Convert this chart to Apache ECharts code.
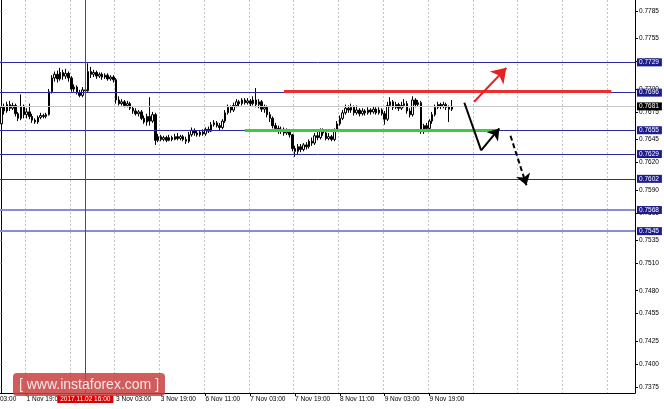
<!DOCTYPE html>
<html><head><meta charset="utf-8">
<script src="https://cdn.jsdelivr.net/npm/echarts@6/dist/echarts.min.js"></script>
<style>html,body{margin:0;padding:0;background:#fff}#c{width:664px;height:409px}</style>
</head><body><div id="c"></div>
<script>
// ---- data ----
const startTime = '2017-11-01T10:00:00Z';
const totalBars = 227;
const tickLabels = ['1 Nov 19:00','3 Nov 03:00','3 Nov 19:00','6 Nov 11:00','7 Nov 03:00','7 Nov 19:00','8 Nov 11:00','9 Nov 03:00','9 Nov 19:00'];
const cutLabel = '03:00';
const crosshairTime = '2 Nov 16:00';
const crosshairText = '2017.11.02 16:00';
const yTicks = [0.7785,0.7755,0.7730,0.7700,0.7675,0.7645,0.7620,0.7590,0.7565,0.7535,0.7510,0.7480,0.7455,0.7425,0.7400,0.7375];
const levels = [0.7729,0.7696,0.7655,0.7629,0.7602];
const lightLevels = [0.7568,0.7545];
const lastPrice = 0.7681;
const opens = [.7662,.7680,.7676,.7683,.7679,.7682,.7673,.7668,.7681,.7672,
.7675,.7670,.7666,.7664,.7669,.7671,.7670,.7672,.7697,.7712,
.7716,.7711,.7718,.7714,.7717,.7712,.7700,.7702,.7696,.7693,
.7699,.7698,.7719,.7716,.7718,.7714,.7716,.7713,.7715,.7711,
.7713,.7710,.7688,.7684,.7686,.7682,.7684,.7679,.7676,.7673,
.7675,.7668,.7664,.7670,.7665,.7672,.7644,.7648,.7645,.7647,
.7644,.7647,.7645,.7648,.7646,.7648,.7645,.7643,.7650,.7655,
.7652,.7650,.7653,.7651,.7656,.7654,.7661,.7663,.7660,.7658,
.7665,.7674,.7680,.7677,.7682,.7686,.7684,.7688,.7685,.7687,
.7684,.7688,.7683,.7686,.7678,.7680,.7672,.7668,.7660,.7657,
.7654,.7656,.7652,.7654,.7650,.7635,.7632,.7637,.7634,.7639,
.7637,.7643,.7641,.7649,.7647,.7654,.7652,.7646,.7648,.7645,
.7655,.7662,.7668,.7674,.7679,.7677,.7680,.7674,.7677,.7673,
.7676,.7674,.7677,.7675,.7678,.7674,.7677,.7673,.7667,.7682,
.7686,.7680,.7683,.7679,.7682,.7684,.7676,.7672,.7688,.7683,
.7685,.7655,.7660,.7657,.7665,.7672,.7680,.7683,.7681,.7683,
.7680,.7678];
const closes = [.7680,.7676,.7683,.7679,.7682,.7673,.7668,.7681,.7672,.7675,
.7670,.7666,.7664,.7669,.7671,.7670,.7672,.7697,.7712,.7716,
.7711,.7718,.7714,.7717,.7712,.7700,.7702,.7696,.7693,.7699,
.7698,.7719,.7716,.7718,.7714,.7716,.7713,.7715,.7711,.7713,
.7710,.7688,.7684,.7686,.7682,.7684,.7679,.7676,.7673,.7675,
.7668,.7664,.7670,.7665,.7672,.7644,.7648,.7645,.7647,.7644,
.7647,.7645,.7648,.7646,.7648,.7645,.7643,.7650,.7655,.7652,
.7650,.7653,.7651,.7656,.7654,.7661,.7663,.7660,.7658,.7665,
.7674,.7680,.7677,.7682,.7686,.7684,.7688,.7685,.7687,.7684,
.7688,.7683,.7686,.7678,.7680,.7672,.7668,.7660,.7657,.7654,
.7656,.7652,.7654,.7650,.7635,.7632,.7637,.7634,.7639,.7637,
.7643,.7641,.7649,.7647,.7654,.7652,.7646,.7648,.7645,.7655,
.7662,.7668,.7674,.7679,.7677,.7680,.7674,.7677,.7673,.7676,
.7674,.7677,.7675,.7678,.7674,.7677,.7673,.7667,.7682,.7686,
.7680,.7683,.7679,.7682,.7684,.7676,.7672,.7688,.7683,.7685,
.7655,.7660,.7657,.7665,.7672,.7680,.7683,.7681,.7683,.7680,
.7678,.7681];
const lows = [.7655,.7672,.7674,.7676,.7677,.7670,.7665,.7666,.7668,.7668,
.7667,.7663,.7662,.7662,.7667,.7668,.7668,.7671,.7695,.7708,
.7707,.7709,.7710,.7711,.7708,.7697,.7697,.7694,.7691,.7691,
.7696,.7697,.7712,.7713,.7711,.7712,.7710,.7711,.7709,.7709,
.7707,.7684,.7682,.7682,.7680,.7680,.7677,.7673,.7671,.7670,
.7666,.7662,.7660,.7660,.7663,.7639,.7642,.7643,.7643,.7642,
.7643,.7643,.7644,.7644,.7644,.7643,.7640,.7641,.7648,.7649,
.7648,.7648,.7649,.7649,.7652,.7653,.7659,.7658,.7655,.7656,
.7663,.7672,.7674,.7675,.7680,.7681,.7682,.7683,.7683,.7681,
.7682,.7680,.7679,.7675,.7674,.7669,.7664,.7657,.7654,.7651,
.7651,.7649,.7650,.7647,.7632,.7626,.7629,.7631,.7632,.7634,
.7635,.7638,.7639,.7644,.7645,.7649,.7644,.7644,.7643,.7643,
.7653,.7660,.7666,.7672,.7674,.7674,.7671,.7672,.7670,.7671,
.7671,.7672,.7672,.7673,.7672,.7672,.7671,.7661,.7665,.7680,
.7677,.7678,.7676,.7677,.7680,.7673,.7669,.7670,.7680,.7681,
.7651,.7651,.7653,.7655,.7662,.7670,.7678,.7678,.7679,.7677,
.7664,.7676];
const highs = [.7688,.7684,.7686,.7687,.7685,.7684,.7675,.7694,.7683,.7679,
.7684,.7673,.7668,.7671,.7674,.7673,.7674,.7700,.7715,.7719,
.7720,.7723,.7721,.7722,.7719,.7714,.7705,.7704,.7699,.7702,
.7701,.7728,.7724,.7721,.7720,.7718,.7718,.7717,.7717,.7715,
.7715,.7712,.7692,.7689,.7688,.7687,.7686,.7681,.7679,.7677,
.7677,.7671,.7673,.7691,.7675,.7674,.7651,.7650,.7649,.7649,
.7650,.7649,.7651,.7652,.7650,.7650,.7648,.7653,.7658,.7657,
.7655,.7655,.7656,.7658,.7659,.7664,.7666,.7665,.7663,.7667,
.7677,.7683,.7682,.7685,.7689,.7688,.7690,.7690,.7690,.7689,
.7692,.7701,.7689,.7688,.7683,.7682,.7675,.7670,.7663,.7660,
.7659,.7658,.7657,.7656,.7651,.7638,.7640,.7640,.7641,.7642,
.7645,.7647,.7652,.7654,.7657,.7657,.7655,.7652,.7650,.7657,
.7665,.7671,.7677,.7683,.7682,.7684,.7682,.7682,.7679,.7679,
.7678,.7680,.7679,.7681,.7680,.7680,.7679,.7676,.7686,.7691,
.7688,.7686,.7685,.7686,.7689,.7687,.7679,.7692,.7690,.7688,
.7687,.7662,.7663,.7667,.7675,.7683,.7686,.7685,.7686,.7685,
.7682,.7688];
// annotations: [barIndex, price]
const resistanceLine = [[101, 0.76975],[218, 0.76975]];
const supportLine = [[87, 0.7655],[177, 0.7655]];
const upArrow = [[169, 0.7686],[180.5, 0.7723]];
const downUpPath = [[165.5, 0.7685],[171.5, 0.7633],[178, 0.7657]];
const downArrow = [[182, 0.7649],[187.7, 0.7595]];

// ---- build ----
const MONTHS = ['Jan','Feb','Mar','Apr','May','Jun','Jul','Aug','Sep','Oct','Nov','Dec'];
const categories = [];
let t = new Date(startTime).getTime();
while (categories.length < totalBars) {
  const d = new Date(t);
  const wd = d.getUTCDay();
  if (wd !== 0 && wd !== 6) {
    categories.push(d.getUTCDate() + ' ' + MONTHS[d.getUTCMonth()] + ' ' +
      String(d.getUTCHours()).padStart(2,'0') + ':00');
  }
  t += 3600000;
}
const candles = opens.map((o,i)=>[o, closes[i], lows[i], highs[i]]);
const labelSet = new Set(tickLabels);
const FONT = 'Liberation Sans';
const FS = 6.5;
const X_MIN = -0.5, X_MAX = totalBars - 0.5;
const Y_MIN = 0.73685, Y_MAX = 0.7797;
const PLOT_W = 635;

const boxLabel = (bg) => ({
  show: true, position: 'end', distance: 2,
  formatter: p => Number(p.value).toFixed(4),
  backgroundColor: bg, color: '#fff', fontFamily: FONT, fontSize: FS,
  padding: [1, 3, 0, 2]
});

const levelLines = levels.map(v => ({yAxis: v, lineStyle: {color: '#2c2c9c', width: 1, type: 'solid'}, label: boxLabel('#1c1c8c')}));
const lightLines = lightLevels.map(v => ({yAxis: v, lineStyle: {color: '#8c8cd4', width: 2, type: 'solid'}, label: boxLabel('#1c1c8c')}));
const priceLine = {yAxis: lastPrice, lineStyle: {color: '#c8c8c8', width: 1, type: 'solid'}, label: boxLabel('#000000')};

function seg(a, b, color, width, type, arrow, size) {
  return [
    {coord: a, symbol: 'none'},
    {coord: b, symbol: arrow ? 'arrow' : 'none', symbolSize: size || 9,
     lineStyle: {color, width, type}}
  ];
}

const annotationLines = [
  seg(resistanceLine[0], resistanceLine[1], '#e83030', 3, 'solid', false),
  seg(supportLine[0], supportLine[1], '#3ccc3c', 3, 'solid', false),
  seg(upArrow[0], upArrow[1], '#e82020', 2, 'solid', true, 14),
  seg(downUpPath[0], downUpPath[1], '#000', 2, 'solid', false),
  seg(downUpPath[1], downUpPath[2], '#000', 2, 'solid', true, 11),
  seg(downArrow[0], downArrow[1], '#000', 2, [5, 3], true, 11)
];

const chart = echarts.init(document.getElementById('c'), null, {renderer: 'canvas'});
chart.setOption({
  animation: false,
  backgroundColor: '#ffffff',
  grid: {left: 0, right: 29, top: 0, bottom: 16, containLabel: false},
  xAxis: [{
    type: 'category', data: categories, boundaryGap: true,
    axisLine: {show: true, lineStyle: {color: '#000', width: 1}},
    axisTick: {show: true, alignWithLabel: true, length: 3, lineStyle: {color: '#000'},
      interval: (i, v) => labelSet.has(v)},
    axisLabel: {show: true, interval: (i, v) => labelSet.has(v), align: 'left',
      fontFamily: FONT, fontSize: FS, color: '#000', margin: 3},
    splitLine: {show: true, interval: (i) => (i >= 9 && (i - 9) % 16 === 0),
      lineStyle: {color: '#c4c4c4', type: [2, 2], width: 1}}
  }, {
    type: 'value', min: X_MIN, max: X_MAX, show: false
  }],
  yAxis: [{
    // labels + horizontal grid (drawn as long inward ticks)
    type: 'value', position: 'right', min: Y_MIN, max: Y_MAX, scale: true,
    axisLine: {show: true, lineStyle: {color: '#000', width: 1}},
    axisTick: {show: true, inside: true, length: PLOT_W, customValues: yTicks,
      lineStyle: {color: '#c4c4c4', type: [2, 2], width: 1}},
    axisLabel: {show: true, customValues: yTicks, formatter: v => v.toFixed(4),
      fontFamily: FONT, fontSize: FS, color: '#000', margin: 4},
    splitLine: {show: false}
  }, {
    // short outside tick marks
    type: 'value', position: 'right', min: Y_MIN, max: Y_MAX, scale: true,
    axisLine: {show: true, lineStyle: {color: '#000', width: 1}},
    axisTick: {show: true, inside: false, length: 3, customValues: yTicks, lineStyle: {color: '#000'}},
    axisLabel: {show: false},
    splitLine: {show: false}
  }],
  graphic: [
    {type: 'text', x: 0, y: 396, z: 10, style: {text: cutLabel, font: FS + 'px "' + FONT + '"', fill: '#000'}},
    {type: 'rect', z: 50, shape: {x: 13, y: 373, width: 152, height: 23, r: 4},
     style: {fill: 'rgba(200,64,64,0.85)'}},
    {type: 'text', z: 51, x: 89, y: 385,
     style: {text: '[ www.instaforex.com ]', fill: '#f6e8e8', font: '14px "Liberation Sans"', align: 'center', verticalAlign: 'middle'}}
  ],
  series: [
    {
      name: 'price', type: 'candlestick', xAxisIndex: 0, yAxisIndex: 0, data: candles, barWidth: 2, z: 3,
      itemStyle: {color: '#ffffff', color0: '#000000', borderColor: '#000000', borderColor0: '#000000', borderWidth: 1},
      markLine: {silent: true, symbol: 'none', animation: false, precision: 5,
        data: [
          ...levelLines, ...lightLines, priceLine,
          {xAxis: crosshairTime, lineStyle: {color: '#505050', width: 1, type: 'solid'},
           label: {show: true, position: 'start', distance: 2, formatter: crosshairText,
             backgroundColor: '#e00000', color: '#fff', fontFamily: FONT, fontSize: FS, padding: [1, 3, 0, 3]}}
        ]}
    },
    {
      name: 'notes', type: 'line', xAxisIndex: 1, yAxisIndex: 0, data: [], z: 5, silent: true,
      markLine: {silent: true, symbol: 'none', animation: false, precision: 5, label: {show: false}, data: annotationLines}
    }
  ]
});
</script></body></html>
